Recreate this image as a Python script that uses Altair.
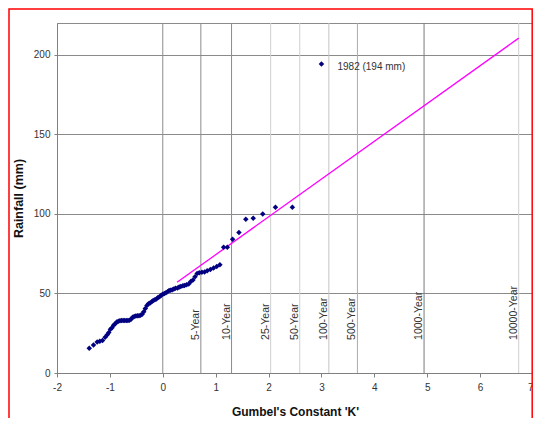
import altair as alt
import pandas as pd

# Gumbel plot data
k_vals = [-1.39, -1.31, -1.24, -1.19, -1.14, -1.09, -1.05, -1.02, -0.99, -0.96,
          -0.93, -0.90, -0.87, -0.84, -0.81, -0.78, -0.75, -0.72, -0.69, -0.66,
          -0.63, -0.60, -0.57, -0.54, -0.51, -0.48, -0.45, -0.42, -0.39, -0.36,
          -0.33, -0.30, -0.27, -0.24, -0.21, -0.18, -0.15, -0.12, -0.09, -0.06,
          -0.03, 0.00, 0.03, 0.06, 0.09, 0.12, 0.15, 0.18, 0.21, 0.24,
          0.28, 0.31, 0.34, 0.38, 0.41, 0.45, 0.49, 0.53, 0.57, 0.61,
          0.65, 0.69, 0.74, 0.79, 0.84, 0.90, 0.96, 1.02, 1.08, 1.15,
          1.22, 1.32, 1.44, 1.57, 1.71, 1.89, 2.13, 2.45, 3.00]
rain_mm = [15.5, 17.6, 19.5, 20.0, 20.5, 22.5, 24.0, 25.5, 27.5, 28.5,
           30.0, 31.0, 32.0, 32.5, 32.8, 33.0, 33.0, 33.0, 33.0, 33.0,
           33.2, 33.8, 35.0, 35.5, 35.8, 36.0, 36.0, 36.3, 37.0, 38.5,
           40.5, 42.5, 43.5, 44.0, 44.8, 45.5, 46.0, 46.5, 47.5, 48.0,
           48.8, 49.5, 50.0, 50.5, 51.0, 51.8, 52.0, 52.3, 52.8, 53.2,
           53.5, 54.0, 54.3, 54.8, 55.0, 55.5, 56.0, 57.5, 58.5, 60.5,
           62.5, 63.0, 63.3, 63.5, 64.3, 65.0, 66.0, 67.0, 68.0, 79.0,
           79.0, 84.0, 88.3, 96.7, 97.3, 100.0, 104.2, 104.2, 194.3]

fit_k = [0.27, 6.73]
fit_mm = [57.0, 210.5]

rp_labels = ["5-Year", "10-Year", "25-Year", "50-Year", "100-Year",
             "500-Year", "1000-Year", "10000-Year"]
rp_k = [0.72, 1.30, 2.04, 2.59, 3.14, 3.68, 4.94, 6.73]
rp_shade = ["#8c8c8c", "#8c8c8c", "#cfcfcf", "#cfcfcf", "#c4c4c4",
            "#ababab", "#7a7a7a", "#cfcfcf"]

annot_text = ["1982 (194 mm)"]
annot_k = [3.00]
annot_mm = [194.3]

pts = pd.DataFrame({"K": k_vals, "mm": rain_mm})
fit = pd.DataFrame({"K": fit_k, "mm": fit_mm})
rp = pd.DataFrame({"K": rp_k, "label": rp_labels, "shade": rp_shade})
zero = pd.DataFrame({"K": [0.0], "shade": ["#8c8c8c"]})
ann = pd.DataFrame({"K": annot_k, "mm": annot_mm, "label": annot_text})

FONT = "Liberation Sans"
W, H = 476, 350
PAD_L, PAD_T, PAD_R, PAD_B = 49, 15, 0, 45

xscale = alt.Scale(domain=[-2, 7], nice=False, zero=False)
yscale = alt.Scale(domain=[0, 220], nice=False)

xaxis = alt.Axis(values=list(range(-2, 8)), grid=False, title="Gumbel's Constant 'K'",
                 labelExpr="'' + datum.value",
                 labelAlign=alt.condition("datum.value == 7", alt.value("right"), alt.value("center")),
                 labelFontSize=10, labelColor="#333333", tickSize=4, tickColor="#808080",
                 domainColor="#808080", labelPadding=5, titleFontSize=12,
                 titleFontWeight="bold", titleColor="#111111", titlePadding=14)
yaxis = alt.Axis(values=[0, 50, 100, 150, 200], grid=True, gridColor="#8a8a8a",
                 title="Rainfall (mm)", labelFontSize=10, labelColor="#333333",
                 tickSize=3, tickColor="#808080", domainColor="#808080",
                 labelPadding=4, titleFontSize=12.5, titleFontWeight="bold",
                 titleColor="#111111", titlePadding=8)

frame = alt.Chart(pd.DataFrame({"a": [1]})).mark_rect(
    fill="transparent", stroke="#ff0000", strokeWidth=1.5
).encode(x=alt.value(-48), x2=alt.value(W - 0.8), y=alt.value(-14), y2=alt.value(430))

zero_rule = alt.Chart(zero).mark_rule(strokeWidth=1).encode(
    x=alt.X("K:Q", scale=xscale, axis=xaxis),
    color=alt.Color("shade:N", scale=None),
)

rp_rules = alt.Chart(rp).mark_rule(strokeWidth=1).encode(
    x=alt.X("K:Q", scale=xscale),
    color=alt.Color("shade:N", scale=None),
)

rp_text = alt.Chart(rp).mark_text(
    angle=270, align="left", baseline="bottom", fontSize=10.5, font=FONT,
    color="#333333"
).encode(
    x=alt.X("K:Q", scale=xscale),
    y=alt.datum(20.8, scale=yscale),
    text="label:N",
)

fit_line = alt.Chart(fit).mark_line(color="#ff00ff", strokeWidth=1.3).encode(
    x=alt.X("K:Q", scale=xscale),
    y=alt.Y("mm:Q", scale=yscale, axis=yaxis),
)

points = alt.Chart(pts).mark_point(
    shape="diamond", filled=True, color="#000080", size=30, opacity=1
).encode(
    x=alt.X("K:Q", scale=xscale),
    y=alt.Y("mm:Q", scale=yscale),
)

ann_text = alt.Chart(ann).mark_text(
    align="left", baseline="middle", dx=16, dy=3, fontSize=10, font=FONT,
    color="#333333"
).encode(
    x=alt.X("K:Q", scale=xscale),
    y=alt.Y("mm:Q", scale=yscale),
    text="label:N",
)

chart = alt.layer(
    zero_rule, rp_rules, rp_text, fit_line, points, ann_text, frame
).properties(
    width=W, height=H,
    autosize=alt.AutoSizeParams(type="none"),
    padding={"left": PAD_L, "top": PAD_T, "right": PAD_R, "bottom": PAD_B},
).configure(
    font=FONT,
    background="white",
).configure_view(
    stroke="#8a8a8a", strokeWidth=1
)

chart.save("out.html", embed_options={"renderer": "svg", "actions": False})
